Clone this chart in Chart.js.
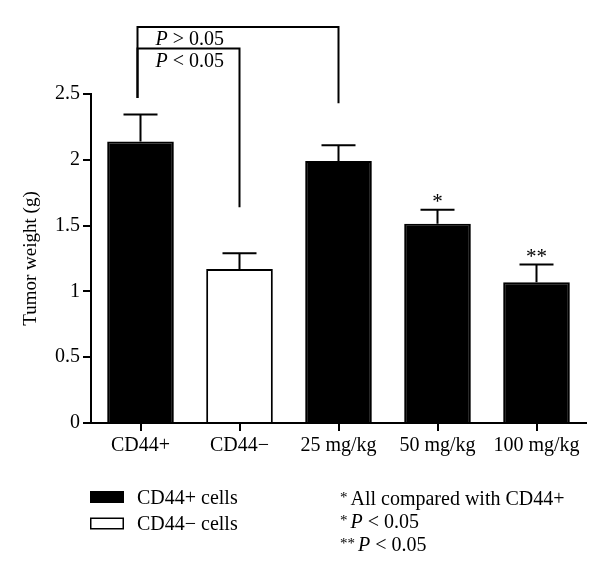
<!DOCTYPE html>
<html>
<head>
<meta charset="utf-8">
<script src="https://cdn.jsdelivr.net/npm/chart.js@4.4.0/dist/chart.umd.min.js"></script>
<style>
  html, body { margin: 0; padding: 0; background: #fff; }
  canvas { display: block; }
</style>
</head>
<body>
<canvas id="grafico" width="600" height="579"></canvas>
<script>
// valores
const categorias = ['CD44+', 'CD44\u2212', '25 mg/kg', '50 mg/kg', '100 mg/kg'];
const pesoCD44pos = [2.14, null, 1.99, 1.515, 1.07];
const pesoCD44neg = [null, 1.17, null, null, null];
const erroPadrao = [0.205, 0.12, 0.12, 0.105, 0.135];
const marcas = ['', '', '', '*', '**'];
const yTicks = [0, 0.5, 1, 1.5, 2, 2.5];

// colchetes de comparação (em unidades do eixo)
const colcheteDe = [0, 0];
const colcheteAte = [2, 1];
const colcheteTopo = [3.01, 2.845];
const colcheteFimEsq = [2.47, 2.47];
const colcheteFimDir = [2.43, 1.64];
const colcheteTexto = ['> 0.05', '< 0.05'];

// notas de rodapé
const notaMarca = ['*', '*', '**'];
const notaTexto = ['All compared with CD44+', '< 0.05', '< 0.05'];
const notaComP = [false, true, true];

const serif = '"Liberation Serif", "Times New Roman", serif';

// barras de erro (só a parte de cima) + asteriscos
const barrasErro = {
  id: 'barrasErro',
  afterDatasetsDraw(chart) {
    const ctx = chart.ctx;
    const y = chart.scales.y;
    ctx.save();
    ctx.strokeStyle = '#000';
    ctx.lineWidth = 2;
    chart.data.datasets.forEach((ds, d) => {
      const meta = chart.getDatasetMeta(d);
      ds.data.forEach((v, i) => {
        if (v === null) return;
        const bar = meta.data[i];
        const topo = y.getPixelForValue(v + erroPadrao[i]);
        ctx.beginPath();
        ctx.moveTo(bar.x, bar.y);
        ctx.lineTo(bar.x, topo);
        ctx.moveTo(bar.x - 17, topo);
        ctx.lineTo(bar.x + 17, topo);
        ctx.stroke();
        if (marcas[i]) {
          ctx.fillStyle = '#000';
          ctx.font = '21px ' + serif;
          ctx.textAlign = 'center';
          ctx.textBaseline = 'alphabetic';
          ctx.fillText(marcas[i], bar.x, topo - 1.5);
        }
      });
    });
    ctx.restore();
  }
};

// texto com P em itálico
function textoP(ctx, x, base, resto, tamanho) {
  ctx.font = 'italic ' + tamanho + 'px ' + serif;
  ctx.fillText('P', x, base);
  const w = ctx.measureText('P ').width;
  ctx.font = tamanho + 'px ' + serif;
  ctx.fillText(resto, x + w, base);
}

const colchetes = {
  id: 'colchetes',
  afterDraw(chart) {
    const { ctx, scales: { x, y } } = chart;
    ctx.save();
    ctx.strokeStyle = '#000';
    ctx.fillStyle = '#000';
    ctx.lineWidth = 2;
    ctx.textAlign = 'left';
    ctx.textBaseline = 'alphabetic';
    colcheteDe.forEach((de, k) => {
      const x1 = x.getPixelForValue(de) - 3;
      const x2 = x.getPixelForValue(colcheteAte[k]);
      const yt = y.getPixelForValue(colcheteTopo[k]);
      ctx.beginPath();
      ctx.moveTo(x1, y.getPixelForValue(colcheteFimEsq[k]));
      ctx.lineTo(x1, yt);
      ctx.lineTo(x2, yt);
      ctx.lineTo(x2, y.getPixelForValue(colcheteFimDir[k]));
      ctx.stroke();
      textoP(ctx, x1 + 18, yt + 18.5, colcheteTexto[k], 20);
    });
    ctx.restore();
  }
};

const legendaNotas = {
  id: 'legendaNotas',
  afterDraw(chart) {
    const ctx = chart.ctx;
    ctx.save();
    ctx.textAlign = 'left';
    ctx.textBaseline = 'alphabetic';
    chart.data.datasets.forEach((ds, i) => {
      const yl = 491 + i * 26.5;
      ctx.fillStyle = ds.backgroundColor;
      ctx.fillRect(90, yl, 34, 12);
      ctx.strokeStyle = '#000';
      ctx.lineWidth = 1.5;
      ctx.strokeRect(90.75, yl + 0.75, 32.5, 10.5);
      ctx.fillStyle = '#000';
      ctx.font = '20px ' + serif;
      ctx.fillText(ds.label, 137, yl + 12.5);
    });
    notaMarca.forEach((m, i) => {
      const base = 505 + i * 23;
      ctx.fillStyle = '#000';
      ctx.font = '15px ' + serif;
      ctx.fillText(m, 340, base - 3);
      const xt = 340 + ctx.measureText(m).width + 3;
      if (notaComP[i]) {
        textoP(ctx, xt, base, notaTexto[i], 20);
      } else {
        ctx.font = '20px ' + serif;
        ctx.fillText(notaTexto[i], xt, base);
      }
    });
    ctx.restore();
  }
};

const ctx = document.getElementById('grafico').getContext('2d');
const grafico = new Chart(ctx, {
  type: 'bar',
  data: {
    labels: categorias,
    datasets: [{
      label: 'CD44+ cells',
      data: pesoCD44pos,
      backgroundColor: '#000',
      borderColor: '#000',
      borderWidth: 2,
      grouped: false,
      barPercentage: 0.673,
      categoryPercentage: 1
    }, {
      label: 'CD44\u2212 cells',
      data: pesoCD44neg,
      backgroundColor: '#fff',
      borderColor: '#000',
      borderWidth: 2,
      grouped: false,
      barPercentage: 0.673,
      categoryPercentage: 1
    }]
  },
  options: {
    responsive: false,
    animation: false,
    layout: { padding: { top: 94, right: 14, bottom: 0, left: 0 } },
    plugins: {
      legend: { display: false },
      tooltip: { enabled: false }
    },
    scales: {
      x: {
        afterFit: (s) => { s.height = 156; },
        ticks: { color: '#000', font: { family: serif, size: 20 }, padding: 3, autoSkip: false, maxRotation: 0 },
        grid: { offset: false, drawOnChartArea: false, tickLength: 8, lineWidth: 2, color: '#000' },
        border: { color: '#000', width: 2 }
      },
      y: {
        min: 0,
        max: 2.5,
        afterBuildTicks: (s) => { s.ticks = yTicks.map(v => ({ value: v })); },
        afterFit: (s) => { s.width = 91; },
        ticks: { color: '#000', font: { family: serif, size: 20 }, padding: 3, callback: (v) => String(v) },
        grid: { drawOnChartArea: false, tickLength: 8, lineWidth: 2, color: '#000' },
        border: { color: '#000', width: 2 },
        title: { display: true, text: 'Tumor weight (g)', color: '#000', font: { family: serif, size: 19 }, padding: { top: 20 } }
      }
    }
  },
  plugins: [barrasErro, colchetes, legendaNotas]
});
</script>
</body>
</html>
